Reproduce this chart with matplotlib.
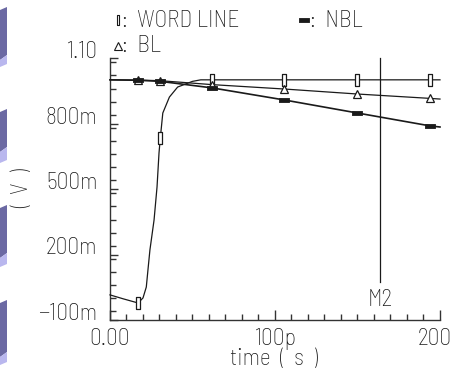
import matplotlib
matplotlib.use("Agg")
import matplotlib.pyplot as plt
from matplotlib import font_manager as fm
from matplotlib.patches import Polygon
from matplotlib.ticker import FixedLocator, MultipleLocator, FixedFormatter

# ---- data ----
wl_t = [0, 8, 17, 20, 22, 23, 24.2, 26.7, 28.5, 29.7, 30.5, 32, 36, 41, 50, 55, 62, 105.5, 150, 194, 200]
wl_v = [0.015, -0.003, -0.022, 0.001, 0.051, 0.129, 0.221, 0.358, 0.509, 0.665, 0.734, 0.848,
        0.921, 0.967, 0.993, 1.0, 1.0, 1.0, 1.0, 1.0, 1.0]
nbl_t = [0, 17, 30.5, 62, 105.5, 150, 194, 200]
nbl_v = [1.0, 0.998, 0.993, 0.963, 0.908, 0.848, 0.789, 0.784]
bl_t = [0, 17, 30.5, 62, 105.5, 150, 194, 200]
bl_v = [1.0, 0.999, 0.996, 0.978, 0.958, 0.935, 0.915, 0.912]
marker_t = [17, 30.5, 62, 105.5, 150, 194]
m2_t = 163.6

yticks = [-0.1, 0.2, 0.5, 0.8, 1.1]
ytick_labels = ["\u2212100m", "200m", "500m", "800m", "1.10"]
xticks = [0, 100, 200]
xtick_labels = ["0.00", "100p", "200p"]

# ---- font ----
names = {f.name for f in fm.fontManager.ttflist}
FONT = "Liberation Sans"
for cand in ["Barlow Semi Condensed", "Barlow Condensed", "Liberation Sans Narrow", "Archivo Narrow"]:
    if cand in names:
        FONT = cand
        break
plt.rcParams["font.family"] = [FONT, "DejaVu Sans"]
plt.rcParams["font.weight"] = "light"
FS = 17
INK = "#1a1a1a"

W, H = 452, 372
fig = plt.figure(figsize=(W / 100, H / 100), dpi=100)
fig.patch.set_facecolor("white")

def fx(px):
    return px / W

def fy(py):
    return 1 - py / H

# decorative purple blocks at the left edge
blocks = [(10, 60, 67), (112, 152, 163), (208, 258, 267), (303, 357, 365)]
for top, dend, lend in blocks:
    dark = Polygon([(fx(0), fy(top)), (fx(7), fy(top - 3)), (fx(7), fy(dend - 5)), (fx(0), fy(dend))],
                   closed=True, transform=fig.transFigure, facecolor="#6b69a3", edgecolor="none")
    light = Polygon([(fx(0), fy(dend)), (fx(7), fy(dend - 5)), (fx(7), fy(lend - 3)), (fx(0), fy(lend))],
                    closed=True, transform=fig.transFigure, facecolor="#b9b7ee", edgecolor="none")
    fig.patches.extend([dark, light])

ax = fig.add_axes([fx(110), fy(320), fx(440) - fx(110), fy(58) - fy(320)])
ax.set_xlim(0, 200)
ax.set_ylim(-0.1, 1.1)
ax.patch.set_alpha(0)
for s in ["top", "right"]:
    ax.spines[s].set_visible(False)
for s in ["left", "bottom"]:
    ax.spines[s].set_color("#333333")
    ax.spines[s].set_linewidth(1.0)

ax.xaxis.set_major_locator(FixedLocator(xticks))
ax.xaxis.set_major_formatter(FixedFormatter(xtick_labels))
ax.xaxis.set_minor_locator(MultipleLocator(10))
ax.yaxis.set_major_locator(FixedLocator(yticks))
ax.yaxis.set_major_formatter(FixedFormatter(ytick_labels))
ax.yaxis.set_minor_locator(MultipleLocator(0.06))
ax.tick_params(which="both", direction="in", colors="#333333", labelcolor=INK, labelsize=FS)
ax.tick_params(axis="x", which="major", length=7, width=1, pad=6)
ax.tick_params(axis="x", which="minor", length=4, width=1)
ax.tick_params(axis="y", which="major", length=6, width=1, pad=9)
ax.tick_params(axis="y", which="minor", length=4, width=1)
for lab in ax.get_yticklabels():
    lab.set_verticalalignment("baseline")
ax.get_xticklabels()[-1].set_clip_on(False)

def mk_idx(ts):
    return [i for i, t in enumerate(ts) if t in marker_t]

wl_marker = [(-0.3, -1), (0.3, -1), (0.3, 1), (-0.3, 1), (-0.3, -1)]
nbl_marker = [(-1, -0.45), (1, -0.45), (1, 0.45), (-1, 0.45), (-1, -0.45)]

ax.plot(wl_t, wl_v, color=INK, lw=0.9, marker=wl_marker, markevery=mk_idx(wl_t),
        ms=8, mfc="white", mec=INK, mew=0.9, clip_on=False, zorder=3)
ax.plot(bl_t, bl_v, color=INK, lw=0.9, marker="^", markevery=mk_idx(bl_t),
        ms=6, mfc="white", mec=INK, mew=0.9, clip_on=False, zorder=3)
ax.plot(nbl_t, nbl_v, color=INK, lw=1.2, marker=nbl_marker, markevery=mk_idx(nbl_t),
        ms=7, mfc=INK, mec=INK, mew=0.6, clip_on=False, zorder=4)

# M2 marker line
ax.plot([m2_t, m2_t], [0.074, 1.1], color=INK, lw=0.9, clip_on=False)
ax.text(m2_t, -0.008, "M2", ha="center", va="center", fontsize=FS, color=INK)

# axis labels
fig.text(fx(274), fy(359), "time  (  s  )", ha="center", va="center", fontsize=FS, color=INK)
fig.text(fx(22), fy(188), "(  V  )", ha="center", va="center", rotation=90, fontsize=FS, color=INK)

# legend at the top
ax.plot([fx(118)], [fy(20)], transform=fig.transFigure, marker=wl_marker, ms=7, mfc="white",
        mec=INK, mew=0.8, clip_on=False, ls="none")
fig.text(fx(122), fy(21), ":  WORD LINE", ha="left", va="center", fontsize=FS, color=INK)
ax.plot([fx(304)], [fy(20)], transform=fig.transFigure, marker=nbl_marker, ms=7, mfc=INK,
        mec=INK, mew=0.6, clip_on=False, ls="none")
fig.text(fx(310), fy(21), ":  NBL", ha="left", va="center", fontsize=FS, color=INK)
ax.plot([fx(118)], [fy(46)], transform=fig.transFigure, marker="^", ms=5.5, mfc="white",
        mec=INK, mew=0.8, clip_on=False, ls="none")
fig.text(fx(122), fy(46.5), ":  BL", ha="left", va="center", fontsize=FS, color=INK)

fig.savefig("out.png", dpi=100, facecolor="white")
